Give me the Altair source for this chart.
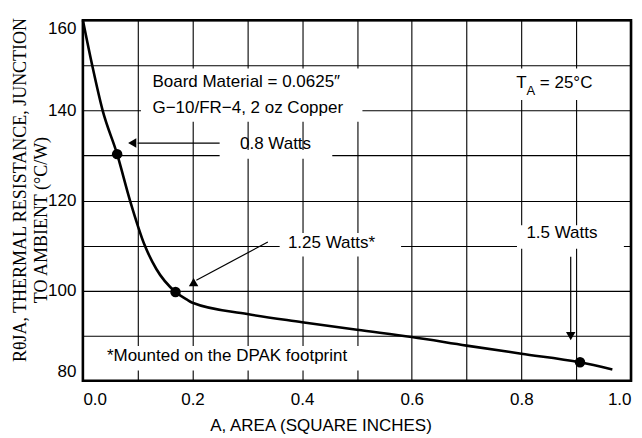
import altair as alt
import pandas as pd

# ---- chart values ----
area = [0.0, 0.017, 0.036, 0.0625, 0.086, 0.113, 0.134, 0.169, 0.19, 0.2, 0.3, 0.4, 0.5, 0.6, 0.7, 0.8, 0.907, 0.966]
rtheta = [160, 150, 140, 130.3, 120, 110, 104.8, 99.7, 98.0, 97.3, 94.8, 93.0, 91.3, 89.7, 87.8, 86.0, 84.1, 82.5]

dot_area = [0.0625, 0.169, 0.907]
dot_rtheta = [130.3, 99.7, 84.1]

x_ticks = [0.0, 0.1, 0.2, 0.3, 0.4, 0.5, 0.6, 0.7, 0.8, 0.9, 1.0]
y_ticks = [80, 90, 100, 110, 120, 130, 140, 150, 160]

# annotation boxes (white masks behind labels)
box_x = [0.106, 0.2495, 0.75, 0.359, 0.792, 0.01]
box_x2 = [0.51, 0.455, 0.95, 0.5805, 0.987, 0.51]
box_y = [137.5, 129.3, 142.3, 107.6, 109.3, 82.3]
box_y2 = [149.3, 131.2, 149.3, 112.8, 114.5, 87.7]

# annotation texts
txt = ["Board Material = 0.0625\u2033", "G\u221210/FR\u22124, 2 oz Copper", "0.8 Watts",
       "1.25 Watts*", "1.5 Watts", "*Mounted on the DPAK footprint"]
txt_x = [0.127, 0.127, 0.3515, 0.4535, 0.874, 0.263]
txt_y = [146.3, 140.5, 132.6, 110.6, 112.8, 85.4]
txt_align = ["left", "left", "center", "center", "center", "center"]

# arrows
arr_x = [0.100, 0.3375, 0.890]
arr_x2 = [0.2495, 0.207, 0.890]
arr_y = [132.75, 110.8, 107.5]
arr_y2 = [132.75, 102.3, 90.8]
head_x = [0.090, 0.202, 0.890]
head_y = [132.75, 101.9, 89.9]
head_shape = ["triangle-left", "triangle-up", "triangle-down"]

FONT = "Liberation Sans Narrow, Arial Narrow, Liberation Sans, sans-serif"
SERIF = "Liberation Serif, Times New Roman, serif"
FS = 17

curve_df = pd.DataFrame({"area": area, "r": rtheta})
dots_df = pd.DataFrame({"area": dot_area, "r": dot_rtheta})
box_df = pd.DataFrame({"x": box_x, "x2": box_x2, "y": box_y, "y2": box_y2})
txt_df = pd.DataFrame({"x": txt_x, "y": txt_y, "t": txt, "a": txt_align})
arr_df = pd.DataFrame({"x": arr_x, "x2": arr_x2, "y": arr_y, "y2": arr_y2})
head_df = pd.DataFrame({"x": head_x, "y": head_y, "s": head_shape})

xscale = alt.Scale(domain=[0, 1], nice=False, zero=False)
yscale = alt.Scale(domain=[80, 160], nice=False, zero=False)

xaxis = alt.Axis(
    values=x_ticks, grid=True, ticks=False, domain=False,
    labelExpr="round(datum.value*10) % 2 == 0 ? format(datum.value, '.1f') : ''",
    labelFlush=True, labelOverlap=False, labelPadding=11,
    title="A, AREA (SQUARE INCHES)", titleX=238, titleY=50, titleAlign="center",
    titleBaseline="alphabetic",
)
yaxis = alt.Axis(
    values=y_ticks, grid=True, ticks=False, domain=False,
    labelExpr="round(datum.value/10) % 2 == 0 ? format(datum.value, 'd') : ''",
    labelFlush=True, labelOverlap=False, labelPadding=7, title=None,
)

curve = alt.Chart(curve_df).mark_line(color="black", strokeWidth=2.6, interpolate="monotone").encode(
    x=alt.X("area:Q", scale=xscale, axis=xaxis),
    y=alt.Y("r:Q", scale=yscale, axis=yaxis),
)

boxes = alt.Chart(box_df).mark_rect(color="white", opacity=1).encode(
    x=alt.X("x:Q", scale=xscale), x2="x2", y=alt.Y("y:Q", scale=yscale), y2="y2"
)

dots = alt.Chart(dots_df).mark_circle(color="black", size=110, opacity=1).encode(
    x=alt.X("area:Q", scale=xscale), y=alt.Y("r:Q", scale=yscale)
)

arrows = alt.Chart(arr_df).mark_rule(color="black", strokeWidth=1.2).encode(
    x=alt.X("x:Q", scale=xscale), x2="x2", y=alt.Y("y:Q", scale=yscale), y2="y2"
)

heads = alt.Chart(head_df).mark_point(filled=True, color="black", size=90, opacity=1).encode(
    x=alt.X("x:Q", scale=xscale), y=alt.Y("y:Q", scale=yscale),
    shape=alt.Shape("s:N", scale=None),
)

texts_left = alt.Chart(txt_df[txt_df.a == "left"]).mark_text(
    font=FONT, fontSize=FS, align="left", baseline="middle", color="black"
).encode(x=alt.X("x:Q", scale=xscale), y=alt.Y("y:Q", scale=yscale), text="t:N")

texts_center = alt.Chart(txt_df[txt_df.a == "center"]).mark_text(
    font=FONT, fontSize=FS, align="center", baseline="middle", color="black"
).encode(x=alt.X("x:Q", scale=xscale), y=alt.Y("y:Q", scale=yscale), text="t:N")

# T_A = 25°C with subscript
ta_df = pd.DataFrame({"x": [0.7905, 0.8095, 0.8337], "y": [146.0, 144.4, 146.0],
                      "t": ["T", "A", "= 25\u00b0C"], "fs": [FS, 13, FS]})
ta = alt.Chart(ta_df).mark_text(font=FONT, align="left", baseline="middle", color="black").encode(
    x=alt.X("x:Q", scale=xscale), y=alt.Y("y:Q", scale=yscale), text="t:N",
    size=alt.Size("fs:Q", scale=None, legend=None),
)

# y axis title (two lines, serif)
yt_df = pd.DataFrame({"t": ["R\u03b8JA, THERMAL RESISTANCE, JUNCTION", "TO AMBIENT (\u00b0C/W)"],
                      "px": [-57, -36], "py": [170, 200]})
ytitle = alt.Chart(yt_df).mark_text(font=SERIF, fontSize=18, angle=270, align="center",
                                    baseline="alphabetic", color="black").encode(
    x=alt.X("px:Q", scale=None), y=alt.Y("py:Q", scale=None), text="t:N"
)

chart = alt.layer(boxes, curve, dots, arrows, heads, texts_left, texts_center, ta, ytitle).properties(
    width=549, height=361,
    autosize=alt.AutoSizeParams(type="none"),
    padding={"left": 75, "top": 12, "right": 3, "bottom": 57},
).configure_view(
    stroke="black", strokeWidth=2.6
).configure_axis(
    gridColor="black", gridOpacity=1, gridWidth=1.1,
    labelFont=FONT, labelFontSize=17, labelColor="black",
    titleFont=FONT, titleFontSize=17, titleFontWeight="normal", titleColor="black",
)

chart.save("out.html", embed_options={"renderer": "svg", "actions": False})
